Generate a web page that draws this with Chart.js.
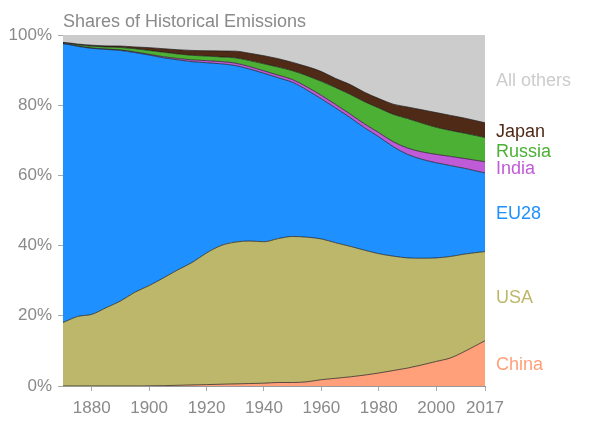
<!DOCTYPE html>
<html>
<head>
<meta charset="utf-8">
<script src="https://cdn.jsdelivr.net/npm/chart.js@4.4.1/dist/chart.umd.min.js"></script>
<style>
  html, body { margin: 0; padding: 0; background: #fff; }
</style>
</head>
<body>
<canvas id="emissions" width="600" height="426"></canvas>
<script>
// shares of cumulative emissions, %
var years  = [1870, 1872, 1875, 1880, 1885, 1890, 1895, 1900, 1905, 1910, 1915, 1920, 1925, 1930, 1935, 1940,
              1945, 1950, 1955, 1960, 1965, 1970, 1975, 1980, 1985, 1990, 1995, 2000, 2005, 2010, 2017];
var china  = [0, 0, 0, 0, 0, 0, 0, 0.05, 0.1, 0.2, 0.3, 0.4, 0.5, 0.6, 0.7, 0.8,
              1.0, 1.0, 1.2, 1.8, 2.2, 2.6, 3.1, 3.7, 4.4, 5.1, 6.0, 7.0, 8.0, 9.9, 12.9];
var usa    = [18.1, 18.8, 19.8, 20.4, 22.3, 24.2, 26.7, 28.55, 30.7, 32.9, 34.9, 37.5, 39.5, 40.4, 40.6, 40.3,
              41.0, 41.6, 41.2, 40.1, 38.6, 37.2, 35.6, 34.0, 32.6, 31.4, 30.4, 29.5, 28.9, 27.7, 25.4];
var eu28   = [79.4, 78.5, 77.0, 75.8, 73.6, 71.4, 68.3, 65.7, 62.7, 59.8, 57.2, 54.2, 51.8, 50.3, 49.0, 48.0,
              45.8, 43.9, 41.9, 39.9, 38.4, 36.7, 34.9, 33.3, 31.2, 29.5, 28.2, 27.1, 25.9, 24.4, 22.4];
var india  = [0.05, 0.05, 0.07, 0.1, 0.1, 0.15, 0.2, 0.2, 0.3, 0.4, 0.5, 0.6, 0.65, 0.7, 0.7, 0.7,
              0.75, 0.8, 0.9, 1.0, 1.0, 1.0, 1.1, 1.2, 1.4, 1.8, 2.1, 2.4, 2.6, 2.8, 3.2];
var russia = [0.2, 0.25, 0.35, 0.5, 0.6, 0.7, 0.9, 1.1, 1.3, 1.3, 1.3, 1.3, 1.3, 1.5, 1.7, 2.0,
              2.3, 2.5, 3.2, 4.0, 4.8, 5.6, 6.3, 7.0, 7.8, 8.4, 8.2, 7.7, 7.4, 7.2, 6.9];
var japan  = [0.1, 0.15, 0.2, 0.3, 0.3, 0.4, 0.5, 0.8, 1.0, 1.2, 1.4, 1.5, 1.7, 1.9, 2.1, 2.3,
              2.4, 2.4, 2.6, 2.8, 2.6, 2.8, 2.7, 2.7, 2.9, 3.3, 3.8, 4.2, 4.3, 4.3, 4.2];
var others = [2.15, 2.25, 2.58, 2.9, 3.1, 3.15, 3.4, 3.6, 3.9, 4.2, 4.4, 4.5, 4.55, 4.6, 5.2, 5.9,
              6.75, 7.8, 9.0, 10.4, 12.4, 14.1, 16.3, 18.1, 19.7, 20.5, 21.3, 22.1, 22.9, 23.7, 25.0];

var seriesNames  = ["China", "USA", "EU28", "India", "Russia", "Japan", "All others"];
var seriesValues = [china, usa, eu28, india, russia, japan, others];
var seriesColors = ["#ffa07a", "#bdb76b", "#1e90ff", "#bf5bd6", "#4cb034", "#4f2a17", "#cccccc"];

var xTicks = [1880, 1900, 1920, 1940, 1960, 1980, 2000, 2017];
var yTicks = [0, 20, 40, 60, 80, 100];

// where the right-hand names sit (baseline, px)
var labelY = [370, 303, 219, 174, 157, 137, 86];

var FONT = "'Liberation Sans', Arial, Helvetica, sans-serif";
var GREY = "#8a8a8a";

var datasets = [];
for (var i = 0; i < seriesNames.length; i++) {
    var pts = [];
    for (var j = 0; j < years.length; j++) {
        pts.push({ x: years[j], y: seriesValues[i][j] });
    }
    datasets.push({
        label: seriesNames[i],
        data: pts,
        backgroundColor: seriesColors[i],
        borderColor: "rgba(20,20,20,0.85)",
        borderWidth: i == seriesNames.length - 1 ? 0 : 0.8,
        fill: i == 0 ? "origin" : "-1",
        pointRadius: 0,
        cubicInterpolationMode: "monotone"
    });
}

var sideLabels = {
    id: "sideLabels",
    afterDraw: function(chart) {
        var ctx = chart.ctx;
        var area = chart.chartArea;
        ctx.save();
        ctx.font = "18px " + FONT;
        ctx.fillStyle = GREY;
        ctx.textAlign = "left";
        ctx.textBaseline = "alphabetic";
        ctx.fillText("Shares of Historical Emissions", area.left, 27);
        ctx.font = "18px " + FONT;
        for (var i = 0; i < seriesNames.length; i++) {
            ctx.fillStyle = seriesColors[i];
            ctx.fillText(seriesNames[i], area.right + 11, labelY[i]);
        }
        ctx.restore();
    }
};

var ctx = document.getElementById("emissions").getContext("2d");
var chart = new Chart(ctx, {
    type: "line",
    data: { datasets: datasets },
    plugins: [sideLabels],
    options: {
        responsive: false,
        animation: false,
        events: [],
        layout: { padding: { left: 0, right: 115, top: 35, bottom: 0 } },
        plugins: {
            legend: { display: false },
            tooltip: { enabled: false }
        },
        scales: {
            x: {
                type: "linear",
                min: 1870,
                max: 2017,
                afterBuildTicks: function(scale) {
                    scale.ticks = xTicks.map(function(v) { return { value: v }; });
                },
                afterFit: function(scale) { scale.height = 40; },
                grid: { drawOnChartArea: false, tickLength: 5, tickColor: "#aaa" },
                border: { color: "#999", width: 1 },
                ticks: {
                    color: GREY,
                    font: { family: FONT, size: 17 },
                    padding: 7,
                    maxRotation: 0,
                    autoSkip: false,
                    callback: function(v) { return String(v); }
                }
            },
            y: {
                stacked: true,
                min: 0,
                max: 100,
                afterBuildTicks: function(scale) {
                    scale.ticks = yTicks.map(function(v) { return { value: v }; });
                },
                afterFit: function(scale) { scale.width = 63; },
                grid: {
                    tickLength: 5,
                    tickColor: "#aaa",
                    color: function(c) { return c.tick && c.tick.value == 100 ? "#999" : "rgba(0,0,0,0)"; }
                },
                border: { color: "#999", width: 1 },
                ticks: {
                    color: GREY,
                    font: { family: FONT, size: 17 },
                    padding: 6,
                    callback: function(v) { return v + "%"; }
                }
            }
        }
    }
});
</script>
</body>
</html>
